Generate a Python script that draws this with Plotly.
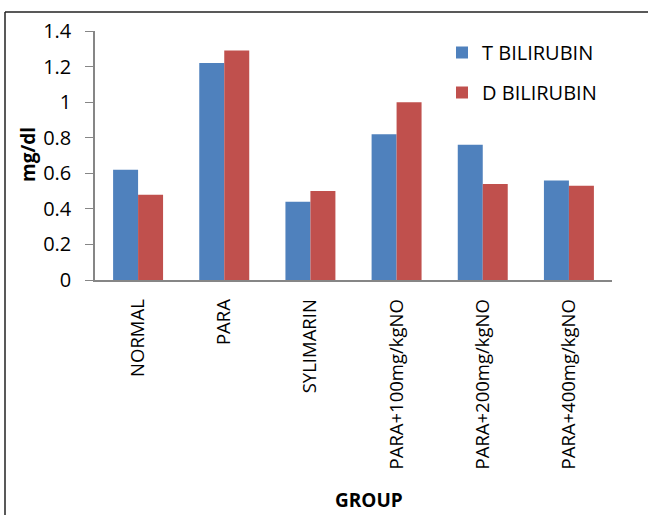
import plotly.graph_objects as go

groups = ["NORMAL", "PARA", "SYLIMARIN", "PARA+100mg/kgNO",
          "PARA+200mg/kgNO", "PARA+400mg/kgNO"]
t_bilirubin = [0.62, 1.22, 0.44, 0.82, 0.76, 0.56]
d_bilirubin = [0.48, 1.29, 0.50, 1.00, 0.54, 0.53]
y_ticks = [0, 0.2, 0.4, 0.6, 0.8, 1, 1.2, 1.4]
y_tick_text = ["0", "0.2", "0.4", "0.6", "0.8", "1", "1.2", "1.4"]

W, H = 648, 515
L, R, T, B = 95, 36, 31, 235
pw, ph = W - L - R, H - T - B

FONT = "Open Sans, Liberation Sans, sans-serif"

fig = go.Figure()
fig.add_trace(go.Bar(x=groups, y=t_bilirubin, name="T BILIRUBIN",
                     legendgroup="t",
                     marker=dict(color="#4F81BD", line=dict(width=0))))
fig.add_trace(go.Bar(x=groups, y=d_bilirubin, name="D BILIRUBIN",
                     legendgroup="d",
                     marker=dict(color="#C0504D", line=dict(width=0))))


def px_x(p):
    return (p - L) / pw


def px_y(p):
    return (H - B - p) / ph


fig.update_layout(
    width=W, height=H,
    margin=dict(l=L, r=R, t=T, b=B, pad=0),
    paper_bgcolor="white", plot_bgcolor="white",
    barmode="group", bargap=0.42, bargroupgap=0,
    font=dict(family=FONT, color="black", size=19),
    showlegend=True,
    legend=dict(x=px_x(442), y=px_y(33), xanchor="left", yanchor="top",
                font=dict(size=20), tracegroupgap=11, itemsizing="constant",
                traceorder="grouped",
                bgcolor="rgba(0,0,0,0)", itemwidth=30),
    xaxis=dict(showline=True, linecolor="#868686", linewidth=1.5,
               ticks="", tickangle=-90, tickfont=dict(size=18.5),
               ticklabelstandoff=10, showgrid=False, zeroline=False),
    yaxis=dict(range=[0, 1.4], tickvals=y_ticks, ticktext=y_tick_text,
               showline=True, linecolor="#868686", linewidth=1.5,
               ticks="outside", ticklen=8, tickcolor="#868686",
               tickfont=dict(size=20), ticklabelstandoff=10,
               showgrid=False, zeroline=False),
    annotations=[
        dict(text="<b>mg/dl</b>", xref="paper", yref="paper",
             x=px_x(28), y=px_y(155), textangle=-90, showarrow=False,
             font=dict(size=19), xanchor="center", yanchor="middle"),
        dict(text="<b>GROUP</b>", xref="paper", yref="paper",
             x=px_x(369), y=px_y(500), showarrow=False,
             font=dict(size=19), xanchor="center", yanchor="middle"),
    ],
    shapes=[
        dict(type="line", xref="paper", yref="paper",
             x0=px_x(5), x1=px_x(660), y0=px_y(12), y1=px_y(12),
             line=dict(color="#222222", width=1.5)),
        dict(type="line", xref="paper", yref="paper",
             x0=px_x(5), x1=px_x(5), y0=px_y(12), y1=px_y(530),
             line=dict(color="#222222", width=1.5)),
    ],
)

fig.write_html("out.html")
